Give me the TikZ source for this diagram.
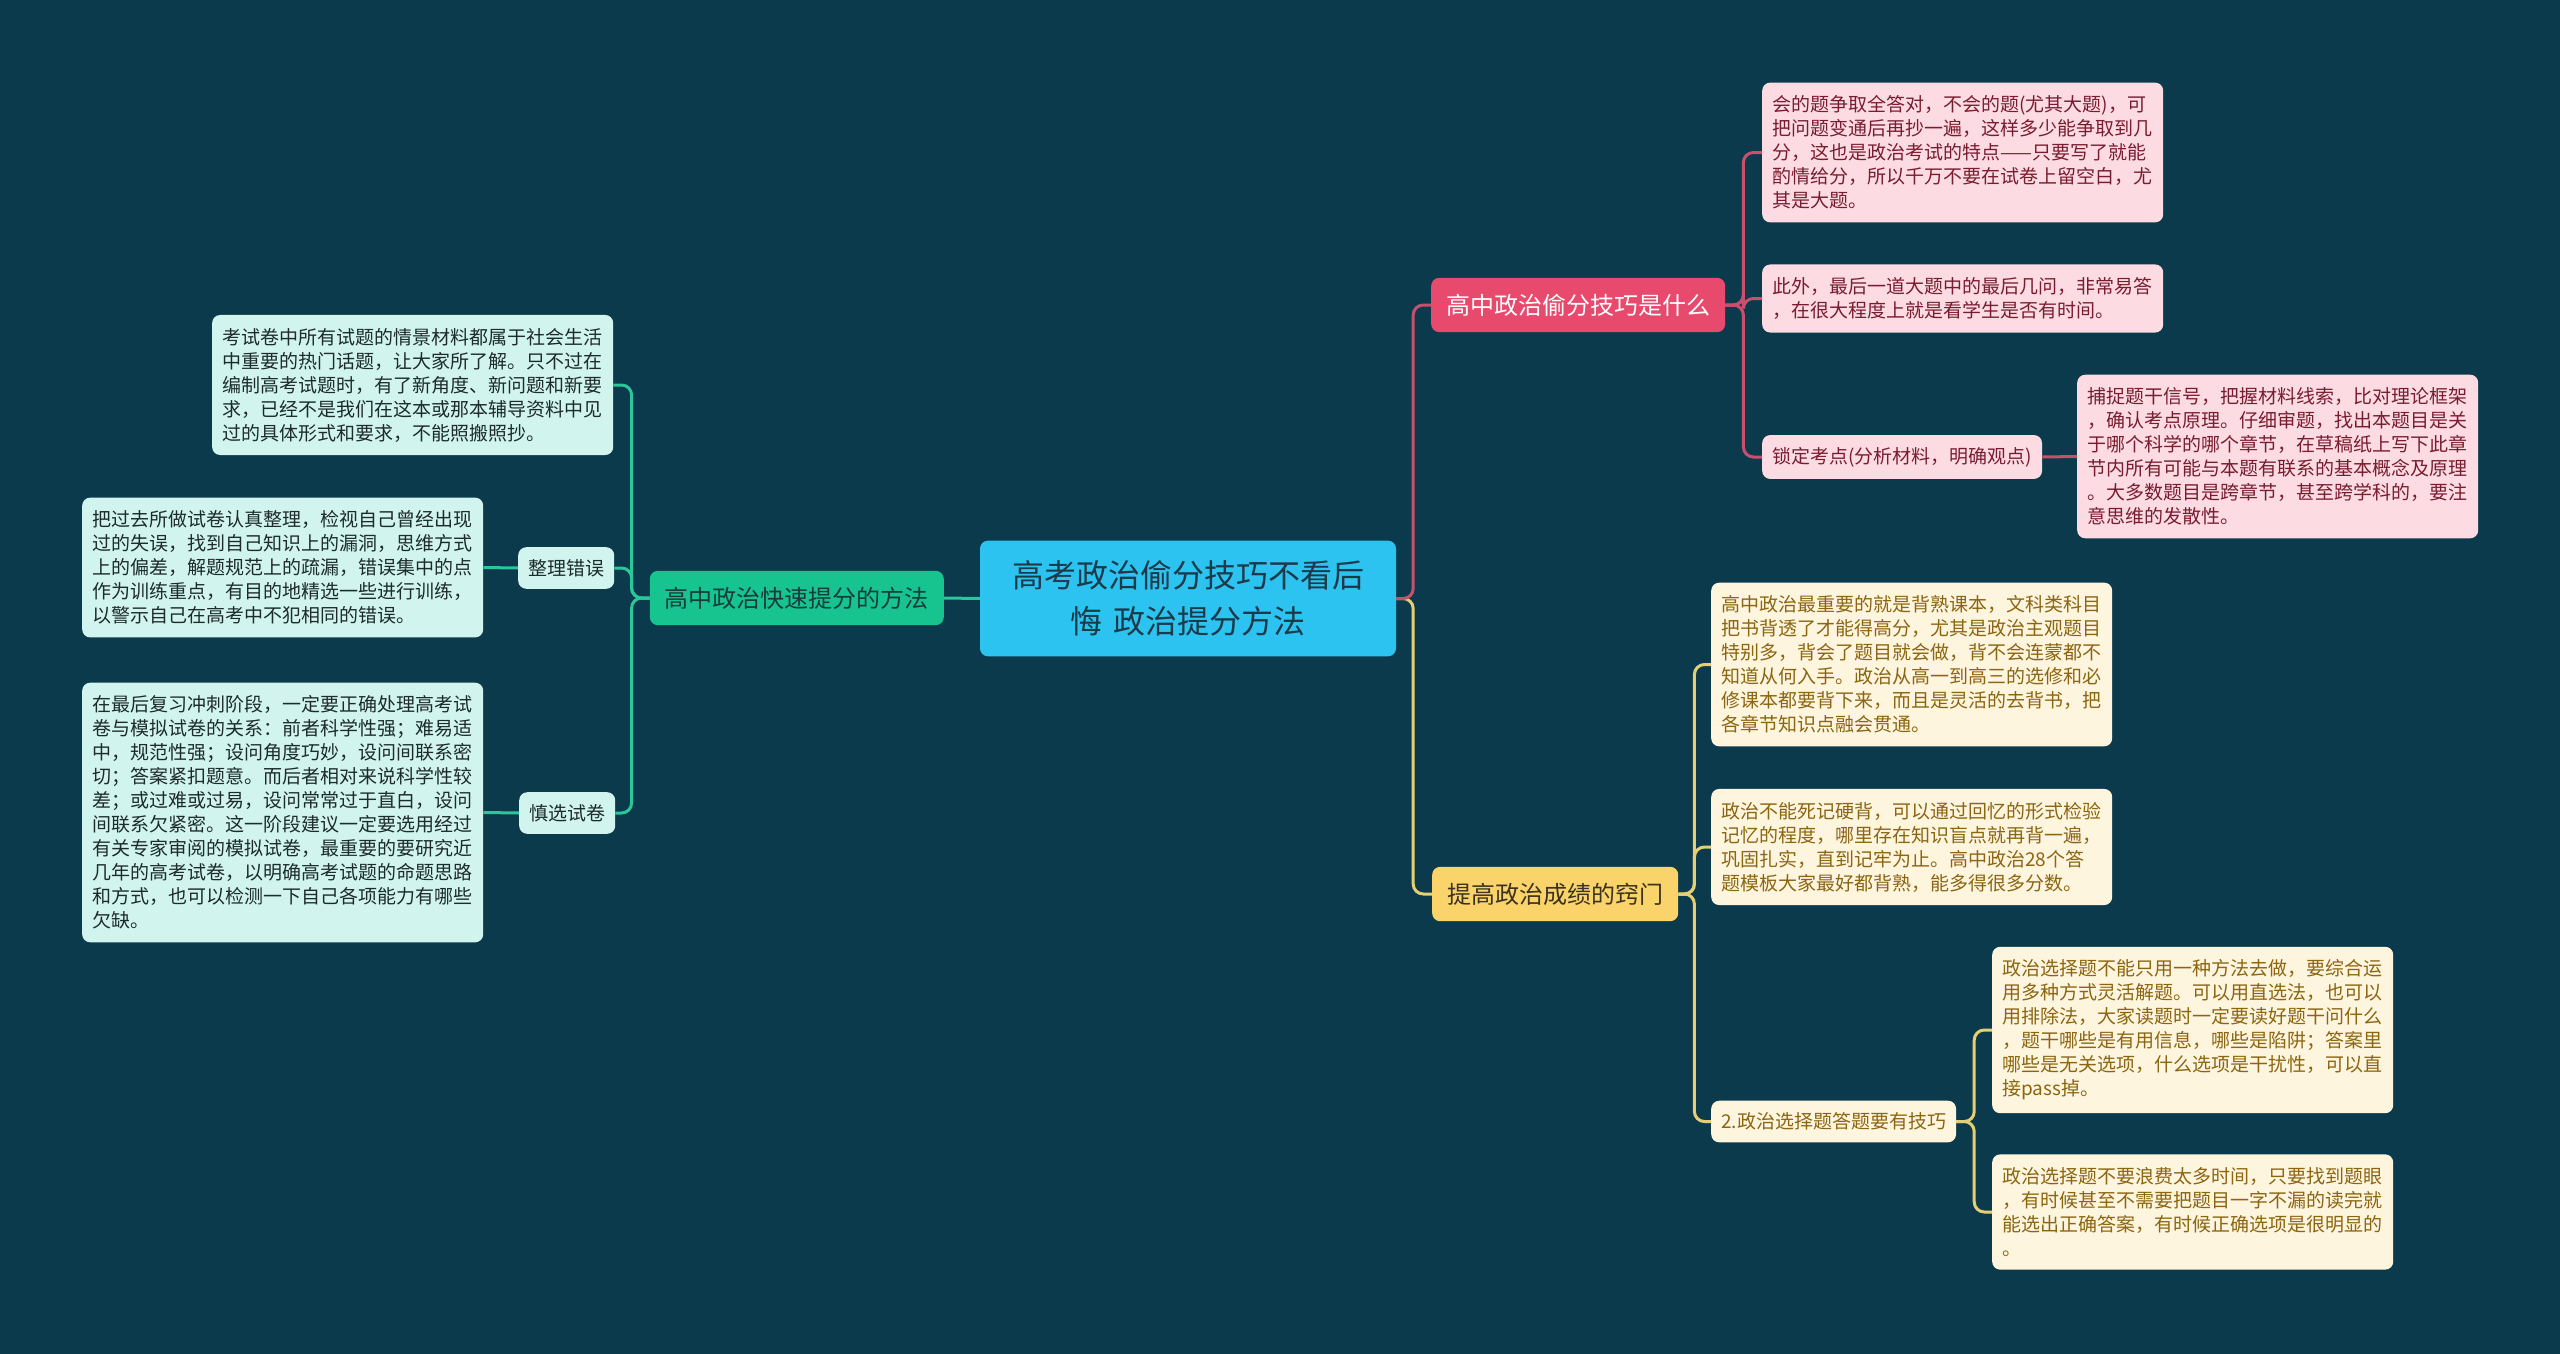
\documentclass[tikz,border=0pt]{standalone}
\usepackage{fontspec}
\setmainfont{Noto Sans CJK SC}
\usepackage{xcolor}
\definecolor{fondo}{HTML}{0B3A4C}
\definecolor{raizcol}{HTML}{2CC3F0}
\definecolor{raiztxt}{HTML}{1B3A4A}
\definecolor{rosa}{HTML}{E84A6E}
\definecolor{rosalin}{HTML}{C8506F}
\definecolor{rosahoja}{HTML}{FCDCE2}
\definecolor{rosatxt}{HTML}{7A1C30}
\definecolor{amar}{HTML}{FAD46B}
\definecolor{amarlin}{HTML}{E6CF72}
\definecolor{amarhoja}{HTML}{FEF5DE}
\definecolor{amartxt}{HTML}{8C6511}
\definecolor{amarrama}{HTML}{3B3220}
\definecolor{verde}{HTML}{17C38E}
\definecolor{verdelin}{HTML}{2BC69A}
\definecolor{verdehoja}{HTML}{D1F5EE}
\definecolor{verdetxt}{HTML}{1D2B2B}
\definecolor{verderama}{HTML}{163C3C}

\begin{document}
\begin{tikzpicture}[x=1pt,y=-1pt,
  caja/.style={rounded corners=8pt},
  hoja/.style={caja, anchor=west, inner xsep=10pt, inner ysep=13pt,
    text width=381pt, align=left, font=\fontsize{19}{24}\selectfont},
  etiq/.style={caja, anchor=west, inner xsep=10pt, inner ysep=12pt,
    font=\fontsize{19}{24}\selectfont},
  rama/.style={caja, inner xsep=15pt, inner ysep=16pt,
    font=\fontsize{24}{28}\selectfont},
  linea/.style={line width=3pt, rounded corners=10pt}]
  % Fondo y margenes
  \useasboundingbox (0,0) rectangle (2560,1354);
  \fill[fondo] (0,0) rectangle (2560,1354);

  % Nodo central
  \node[caja, fill=raizcol, text=raiztxt, inner xsep=31pt, inner ysep=20pt,
    text width=354pt, align=center, font=\fontsize{32}{46}\selectfont]
    (raiz) at (1188,598.5) {高考政治偷分技巧不看后\\悔 政治提分方法};

  % Ramas principales
  \node[rama, fill=rosa, text=white, anchor=west] (ramaP) at (1431,305) {高中政治偷分技巧是什么};
  \node[rama, fill=amar, text=amarrama, anchor=west] (ramaY) at (1432,894) {提高政治成绩的窍门};
  \node[rama, fill=verde, text=verderama, anchor=east] (ramaG) at (944,598) {高中政治快速提分的方法};

  % Hojas rosas
  \node[hoja, fill=rosahoja, text=rosatxt] (p1) at (1762,152.5) {会的题争取全答对，不会的题(尤其大题)，可\\把问题变通后再抄一遍，这样多少能争取到几\\分，这也是政治考试的特点——只要写了就能\\酌情给分，所以千万不要在试卷上留空白，尤\\其是大题。};
  \node[hoja, fill=rosahoja, text=rosatxt] (p2) at (1762,298.5) {此外，最后一道大题中的最后几问，非常易答\\，在很大程度上就是看学生是否有时间。};
  \node[etiq, fill=rosahoja, text=rosatxt] (p3) at (1762,457) {锁定考点(分析材料，明确观点)};
  \node[hoja, fill=rosahoja, text=rosatxt] (p3d) at (2077,456.5) {捕捉题干信号，把握材料线索，比对理论框架\\，确认考点原理。仔细审题，找出本题目是关\\于哪个科学的哪个章节，在草稿纸上写下此章\\节内所有可能与本题有联系的基本概念及原理\\。大多数题目是跨章节，甚至跨学科的，要注\\意思维的发散性。};

  % Hojas amarillas
  \node[hoja, fill=amarhoja, text=amartxt] (y1) at (1711,664.5) {高中政治最重要的就是背熟课本，文科类科目\\把书背透了才能得高分，尤其是政治主观题目\\特别多，背会了题目就会做，背不会连蒙都不\\知道从何入手。政治从高一到高三的选修和必\\修课本都要背下来，而且是灵活的去背书，把\\各章节知识点融会贯通。};
  \node[hoja, fill=amarhoja, text=amartxt] (y2) at (1711,847) {政治不能死记硬背，可以通过回忆的形式检验\\记忆的程度，哪里存在知识盲点就再背一遍，\\巩固扎实，直到记牢为止。高中政治28个答\\题模板大家最好都背熟，能多得很多分数。};
  \node[etiq, fill=amarhoja, text=amartxt] (y3) at (1711,1121.5) {2.政治选择题答题要有技巧};
  \node[hoja, fill=amarhoja, text=amartxt] (y3a) at (1992,1030) {政治选择题不能只用一种方法去做，要综合运\\用多种方式灵活解题。可以用直选法，也可以\\用排除法，大家读题时一定要读好题干问什么\\，题干哪些是有用信息，哪些是陷阱；答案里\\哪些是无关选项，什么选项是干扰性，可以直\\接pass掉。};
  \node[hoja, fill=amarhoja, text=amartxt] (y3b) at (1992,1212) {政治选择题不要浪费太多时间，只要找到题眼\\，有时候甚至不需要把题目一字不漏的读完就\\能选出正确答案，有时候正确选项是很明显的\\。};

  % Hojas verdes
  \node[hoja, fill=verdehoja, text=verdetxt] (g1) at (212,385) {考试卷中所有试题的情景材料都属于社会生活\\中重要的热门话题，让大家所了解。只不过在\\编制高考试题时，有了新角度、新问题和新要\\求，已经不是我们在这本或那本辅导资料中见\\过的具体形式和要求，不能照搬照抄。};
  \node[etiq, fill=verdehoja, text=verdetxt] (z1) at (518,568) {整理错误};
  \node[etiq, fill=verdehoja, text=verdetxt] (z2) at (519,813) {慎选试卷};
  \node[hoja, fill=verdehoja, text=verdetxt] (g2) at (82,567.5) {把过去所做试卷认真整理，检视自己曾经出现\\过的失误，找到自己知识上的漏洞，思维方式\\上的偏差，解题规范上的疏漏，错误集中的点\\作为训练重点，有目的地精选一些进行训练，\\以警示自己在高考中不犯相同的错误。};
  \node[hoja, fill=verdehoja, text=verdetxt] (g3) at (82,812.5) {在最后复习冲刺阶段，一定要正确处理高考试\\卷与模拟试卷的关系：前者科学性强；难易适\\中，规范性强；设问角度巧妙，设问间联系密\\切；答案紧扣题意。而后者相对来说科学性较\\差；或过难或过易，设问常常过于直白，设问\\间联系欠紧密。这一阶段建议一定要选用经过\\有关专家审阅的模拟试卷，最重要的要研究近\\几年的高考试卷，以明确高考试题的命题思路\\和方式，也可以检测一下自己各项能力有哪些\\欠缺。};

  % Conectores
  \draw[linea, amarlin] (raiz.east) -- ++(17,0) |- (ramaY.west);
  \draw[linea, rosalin] (raiz.east) -- ++(17,0) |- (ramaP.west);
  \draw[linea, verdelin] (raiz.west) -- (ramaG.east);
  \foreach \h in {p1,p2,p3}
    \draw[linea, rosalin] (ramaP.east) -- ++(18,0) |- (\h.west);
  \draw[linea, rosalin] (p3.east) -- (p3d.west);
  \foreach \h in {y1,y2,y3}
    \draw[linea, amarlin] (ramaY.east) -- ++(16,0) |- (\h.west);
  \foreach \h in {y3a,y3b}
    \draw[linea, amarlin] (y3.east) -- ++(18,0) |- (\h.west);
  \foreach \h in {g1,z1,z2}
    \draw[linea, verdelin] (ramaG.west) -- ++(-18,0) |- (\h.east);
  \draw[linea, verdelin] (z1.west) -- (g2.east);
  \draw[linea, verdelin] (z2.west) -- (g3.east);
\end{tikzpicture}
\end{document}
